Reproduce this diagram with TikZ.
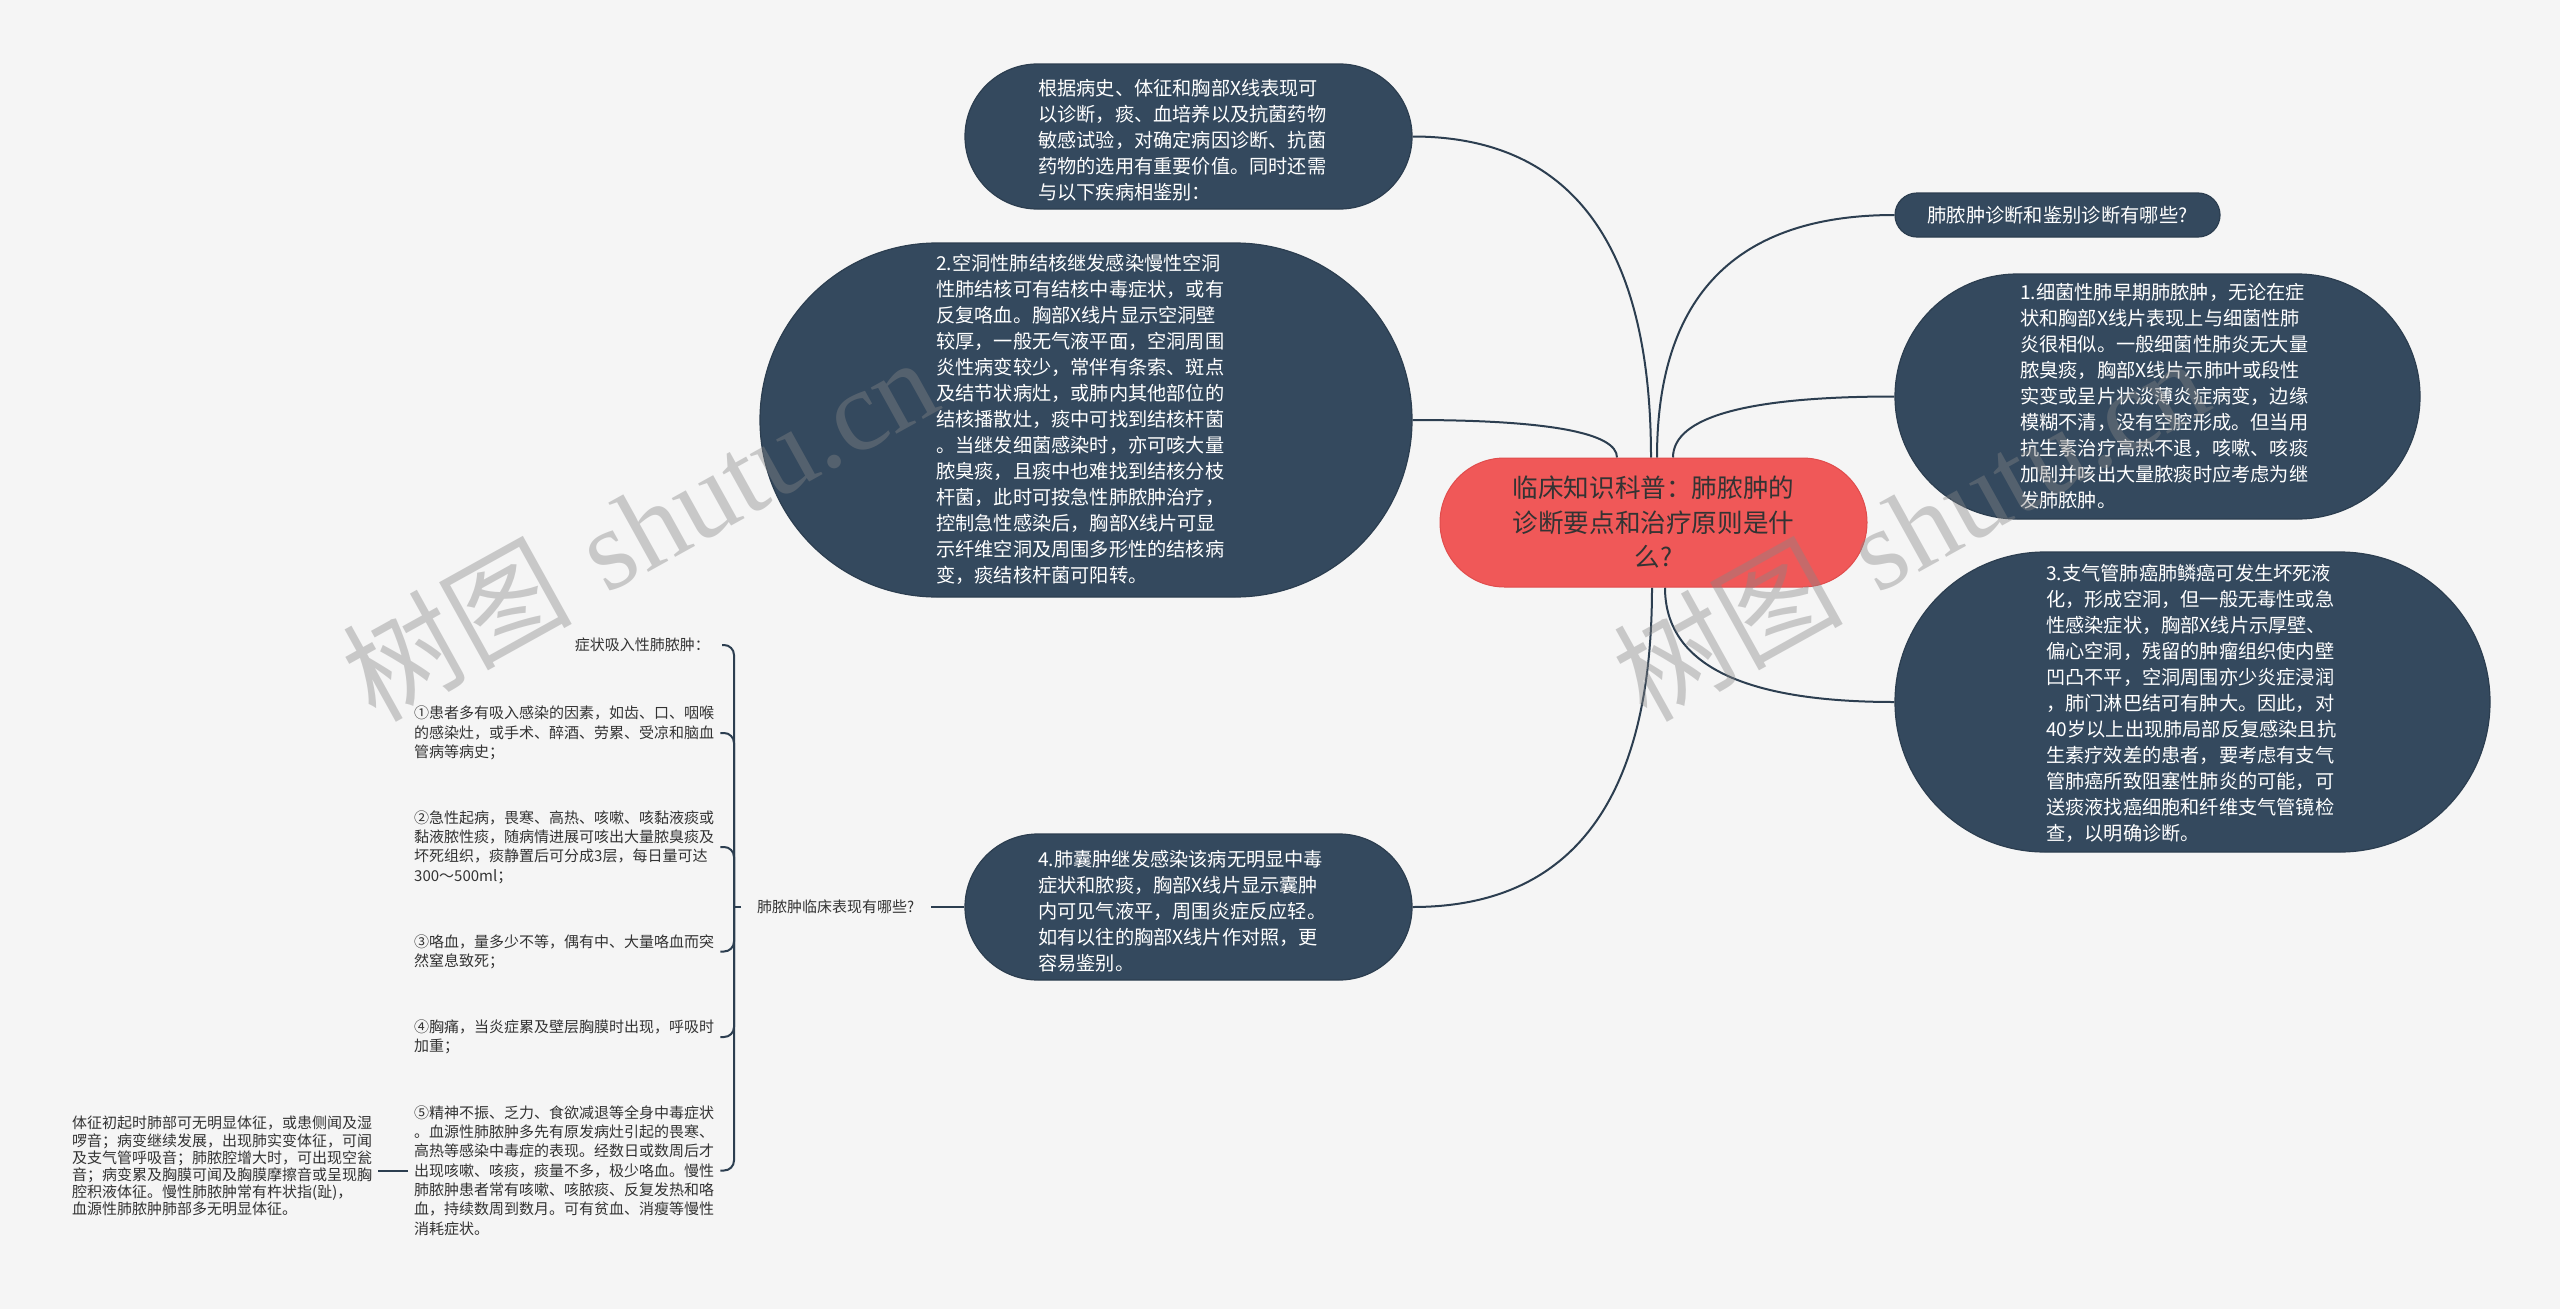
\documentclass[tikz,border=0pt]{standalone}
\usepackage{fontspec}
\newfontfamily\cjk{Noto Sans CJK SC}
\newfontfamily\wmserif{Liberation Serif}
\usetikzlibrary{backgrounds}
\definecolor{bgc}{HTML}{F5F5F5}
\definecolor{navy}{HTML}{34495E}
\definecolor{navyedge}{HTML}{2C3E50}
\definecolor{linec}{HTML}{2C3E50}
\definecolor{redc}{HTML}{F05858}
\definecolor{rededge}{HTML}{E04C4C}
\definecolor{txt}{HTML}{333333}
\definecolor{wm}{HTML}{868686}
\tikzset{
  darkbox/.style={fill=navy, draw=navyedge, line width=1.2pt, inner sep=0pt},
  whitetext/.style={text=white, font=\cjk\fontsize{19.2}{26}\selectfont, align=left, inner sep=0pt, anchor=west},
  conn/.style={draw=linec, line width=2pt},
  leftitem/.style={text=txt, font=\cjk\fontsize{15}{19.3}\selectfont, align=left, inner xsep=6pt, inner ysep=2pt, anchor=west},
  wmark/.style={text=wm, text opacity=0.4, rotate=29, font=\fontsize{115}{115}\selectfont},
}
\begin{document}
\begin{tikzpicture}[x=1pt,y=-1pt]
\begin{scope}[on background layer]
\fill[bgc] (0,0) rectangle (2560,1309);
\end{scope}
\useasboundingbox (0,0) rectangle (2560,1309);

% central topic
\node[fill=redc, draw=rededge, line width=1pt, rounded corners=64.5pt, minimum width=427pt, minimum height=129pt, inner sep=0pt, text=txt, align=center, font=\cjk\fontsize{25.6}{34.5}\selectfont] (c) at (1653.5,522.5) {临床知识科普：肺脓肿的\\诊断要点和治疗原则是什\\么?};

% top node
\node[darkbox, rounded corners=72.5pt, minimum width=447pt, minimum height=145pt] (n0) at (1188.5,136.5) {};
\node[whitetext] (t0) at (1038,140.5) {根据病史、体征和胸部X线表现可\\以诊断，痰、血培养以及抗菌药物\\敏感试验，对确定病因诊断、抗菌\\药物的选用有重要价值。同时还需\\与以下疾病相鉴别：};

% node 2
\node[darkbox, rounded corners=177pt, minimum width=652pt, minimum height=354pt] (n2) at (1086,420) {};
\node[whitetext] (t2) at (936,419) {2.空洞性肺结核继发感染慢性空洞\\性肺结核可有结核中毒症状，或有\\反复咯血。胸部X线片显示空洞壁\\较厚，一般无气液平面，空洞周围\\炎性病变较少，常伴有条索、斑点\\及结节状病灶，或肺内其他部位的\\结核播散灶，痰中可找到结核杆菌\\。当继发细菌感染时，亦可咳大量\\脓臭痰，且痰中也难找到结核分枝\\杆菌，此时可按急性肺脓肿治疗，\\控制急性感染后，胸部X线片可显\\示纤维空洞及周围多形性的结核病\\变，痰结核杆菌可阳转。};

% question node
\node[darkbox, rounded corners=22pt, minimum width=325pt, minimum height=44pt, text=white, font=\cjk\fontsize{19.3}{24}\selectfont] (nq) at (2057.5,215) {肺脓肿诊断和鉴别诊断有哪些?};

% node 1
\node[darkbox, rounded corners=122.5pt, minimum width=525pt, minimum height=245pt] (n1) at (2157.5,396.5) {};
\node[whitetext] (t1) at (2020,396) {1.细菌性肺早期肺脓肿，无论在症\\状和胸部X线片表现上与细菌性肺\\炎很相似。一般细菌性肺炎无大量\\脓臭痰，胸部X线片示肺叶或段性\\实变或呈片状淡薄炎症病变，边缘\\模糊不清，没有空腔形成。但当用\\抗生素治疗高热不退，咳嗽、咳痰\\加剧并咳出大量脓痰时应考虑为继\\发肺脓肿。};

% node 3
\node[darkbox, rounded corners=150pt, minimum width=595pt, minimum height=300pt] (n3) at (2192.5,702) {};
\node[whitetext] (t3) at (2046,703.5) {3.支气管肺癌肺鳞癌可发生坏死液\\化，形成空洞，但一般无毒性或急\\性感染症状，胸部X线片示厚壁、\\偏心空洞，残留的肿瘤组织使内壁\\凹凸不平，空洞周围亦少炎症浸润\\，肺门淋巴结可有肿大。因此，对\\40岁以上出现肺局部反复感染且抗\\生素疗效差的患者，要考虑有支气\\管肺癌所致阻塞性肺炎的可能，可\\送痰液找癌细胞和纤维支气管镜检\\查，以明确诊断。};

% node 4
\node[darkbox, rounded corners=73pt, minimum width=447pt, minimum height=146pt] (n4) at (1188.5,907) {};
\node[whitetext] (t4) at (1038,911) {4.肺囊肿继发感染该病无明显中毒\\症状和脓痰，胸部X线片显示囊肿\\内可见气液平，周围炎症反应轻。\\如有以往的胸部X线片作对照，更\\容易鉴别。};

% left branch
\node[leftitem, inner xsep=16pt] (lbl) at (741,907) {肺脓肿临床表现有哪些?};
\coordinate (bj) at (734,907);
\node[leftitem, anchor=east, inner xsep=12pt] (sym) at (722,645) {症状吸入性肺脓肿：};
\node[leftitem] (i1) at (408,733) {①患者多有吸入感染的因素，如齿、口、咽喉\\的感染灶，或手术、醉酒、劳累、受凉和脑血\\管病等病史；};
\node[leftitem] (i2) at (408,847) {②急性起病，畏寒、高热、咳嗽、咳黏液痰或\\黏液脓性痰，随病情进展可咳出大量脓臭痰及\\坏死组织，痰静置后可分成3层，每日量可达\\300～500ml；};
\node[leftitem] (i3) at (408,951.5) {③咯血，量多少不等，偶有中、大量咯血而突\\然窒息致死；};
\node[leftitem] (i4) at (408,1037) {④胸痛，当炎症累及壁层胸膜时出现，呼吸时\\加重；};
\node[leftitem] (i5) at (408,1170.5) {⑤精神不振、乏力、食欲减退等全身中毒症状\\。血源性肺脓肿多先有原发病灶引起的畏寒、\\高热等感染中毒症的表现。经数日或数周后才\\出现咳嗽、咳痰，痰量不多，极少咯血。慢性\\肺脓肿患者常有咳嗽、咳脓痰、反复发热和咯\\血，持续数周到数月。可有贫血、消瘦等慢性\\消耗症状。};
\node[leftitem, font=\cjk\fontsize{15}{17.1}\selectfont] (tz) at (66,1166) {体征初起时肺部可无明显体征，或患侧闻及湿\\啰音；病变继续发展，出现肺实变体征，可闻\\及支气管呼吸音；肺脓腔增大时，可出现空瓮\\音；病变累及胸膜可闻及胸膜摩擦音或呈现胸\\腔积液体征。慢性肺脓肿常有杵状指(趾)，\\血源性肺脓肿肺部多无明显体征。};

% connectors
\begin{scope}[on background layer]
\draw[conn] ([xshift=-36.5pt]c.north) .. controls (1617,433) and (1549,420) .. (n2.east);
\draw[conn] ([xshift=-2.5pt]c.north) .. controls (1651,244) and (1571,136.5) .. (n0.east);
\draw[conn] ([xshift=3.5pt]c.north) .. controls (1657,296) and (1736,215) .. (nq.west);
\draw[conn] ([xshift=19.5pt]c.north) .. controls (1673,417) and (1747,396.5) .. (n1.west);
\draw[conn] ([xshift=11.5pt]c.south) .. controls (1665,664) and (1742,702) .. (n3.west);
\draw[conn] ([xshift=-1.5pt]c.south) .. controls (1652,800) and (1572,907) .. (n4.east);
\draw[conn] (n4.west) -- (lbl.east);
\draw[conn] (lbl.west) -- (bj);
\foreach \k in {sym,i1,i2,i3,i4,i5} \draw[conn, rounded corners=10pt] (bj) |- (\k.east);
\draw[conn] (i5.west) -- (i5.west -| tz.east);
\end{scope}

% watermarks
\node[wmark] (w1) at (639,527) {{\cjk 树图} {\wmserif shutu.cn}};
\node[wmark] (w2) at (1910,527) {{\cjk 树图} {\wmserif shutu.cn}};
\end{tikzpicture}
\end{document}
